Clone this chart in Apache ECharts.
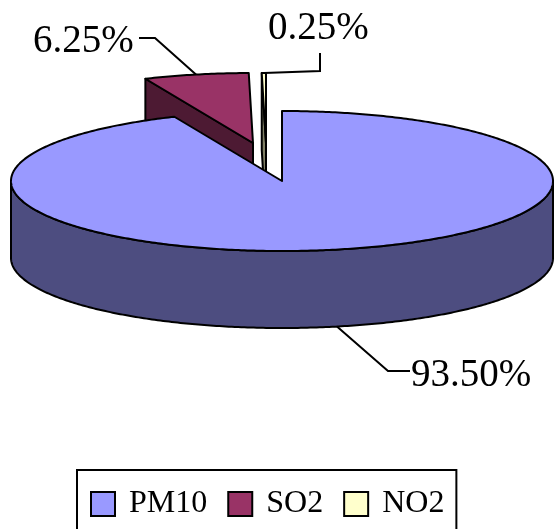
<!DOCTYPE html>
<html><head><meta charset="utf-8">
<style>html,body{margin:0;padding:0;background:#fff}#c{width:554px;height:529px}</style>
<script src="https://cdn.jsdelivr.net/npm/echarts@6/dist/echarts.min.js"></script>
</head><body><div id="c"></div>
<script>
const categories = ['PM10', 'SO2', 'NO2'];
const values = [93.5, 6.25, 0.25];
const valueLabels = ['93.50%', '6.25%', '0.25%'];
const topColors = ['#9999FF', '#993366', '#FFFFCC'];
const wallColors = ['#4D4D80', '#4D1A33', '#808066'];

const pie = {cx: 282, cy: 181, rx: 271, ry: 70, depth: 77};
const shifts = [[0, 0], [-29, -38], [-16, -38]];
const labelLayout = [
  {elbow: [388, 371], end: [410, 371], text: [411, 376], align: 'left', depth: true},
  {elbow: [155, 38], end: [139, 38], text: [33, 42], align: 'left'},
  {elbow: [320, 71], end: [320, 53], text: [268, 29], align: 'left'}
];
const fontFamily = '"Liberation Serif", serif';
const total = values.reduce((a, b) => a + b, 0);

function startAngle(i) {
  let s = 0;
  for (let k = 0; k < i; k++) s += values[k];
  return s / total * 360;
}
function rim(i, deg, drop) {
  const t = deg * Math.PI / 180;
  return [pie.cx + shifts[i][0] + pie.rx * Math.sin(t),
          pie.cy + shifts[i][1] - pie.ry * Math.cos(t) + (drop || 0)];
}
function arc(i, a, b, drop) {
  const pts = [], n = Math.max(2, Math.ceil(Math.abs(b - a) * 1.5));
  for (let k = 0; k <= n; k++) pts.push(rim(i, a + (b - a) * k / n, drop));
  return pts;
}
const stroke = {stroke: '#000', lineWidth: 2, lineJoin: 'round'};

function renderSlice(i) {
  return function () {
    const a = startAngle(i), b = a + values[i] / total * 360;
    const apex = [pie.cx + shifts[i][0], pie.cy + shifts[i][1]];
    const children = [];
    if (i === 0) {
      const front = arc(i, 90, 270, 0).concat(arc(i, 270, 90, pie.depth));
      children.push({type: 'polygon', shape: {points: front},
        style: Object.assign({fill: wallColors[i]}, stroke)});
    } else {
      const r = rim(i, a);
      children.push({type: 'polygon',
        shape: {points: [apex, r, [r[0], r[1] + pie.depth], [apex[0], apex[1] + pie.depth]]},
        style: Object.assign({fill: wallColors[i]}, stroke)});
    }
    children.push({type: 'polygon', shape: {points: [apex].concat(arc(i, a, b, 0))},
      style: Object.assign({fill: topColors[i]}, stroke)});
    const l = labelLayout[i];
    const anchor = rim(i, (a + b) / 2, l.depth ? pie.depth : 0);
    children.push({type: 'polyline', shape: {points: [anchor, l.elbow, l.end]},
      style: {fill: 'none', stroke: '#000', lineWidth: 2}});
    children.push({type: 'text', x: l.text[0], y: l.text[1],
      style: {text: valueLabels[i], fill: '#000', font: '39px ' + fontFamily,
        textAlign: l.align, textVerticalAlign: 'middle'}});
    return {type: 'group', children};
  };
}

const chart = echarts.init(document.getElementById('c'), null, {renderer: 'canvas'});
chart.setOption({
  animation: false,
  backgroundColor: '#fff',
  legend: {
    left: 77, top: 470, orient: 'horizontal',
    padding: [18, 12, 17, 13],
    itemWidth: 24, itemHeight: 24, itemGap: 20,
    borderColor: '#000', borderWidth: 2, backgroundColor: '#fff',
    icon: 'rect',
    selectedMode: false,
    textStyle: {fontFamily: 'Liberation Serif', fontSize: 32, color: '#000', padding: [0, 0, 0, 9]},
    itemStyle: {borderColor: '#000', borderWidth: 2},
    data: categories.map((name, i) => ({name, itemStyle: {color: topColors[i], borderColor: '#000', borderWidth: 2}}))
  },
  series: categories.map((name, i) => ({
    type: 'custom', name, coordinateSystem: 'none',
    z: i === 0 ? 3 : 2,
    itemStyle: {color: topColors[i]},
    data: [values[i]],
    renderItem: renderSlice(i)
  }))
});
</script></body></html>
